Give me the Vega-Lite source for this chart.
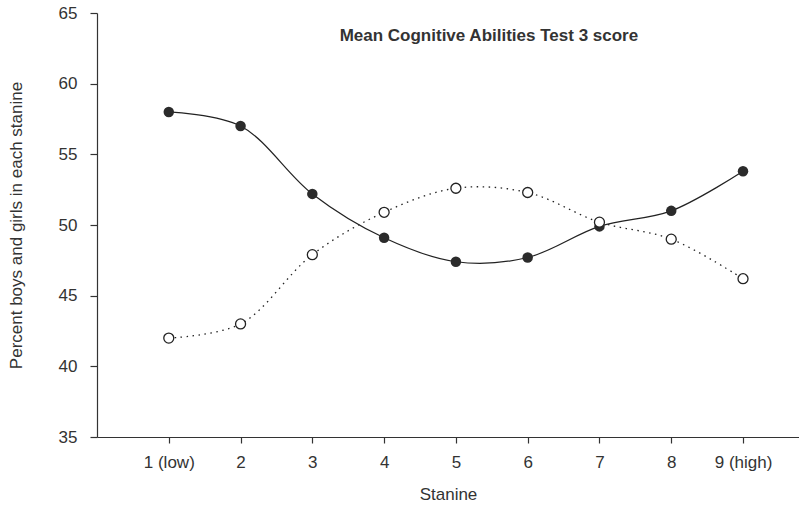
{
  "$schema": "https://vega.github.io/schema/vega-lite/v6.json",
  "autosize": "none",
  "width": 702,
  "height": 424,
  "padding": {"left": 97, "top": 13, "right": 0, "bottom": 75},
  "background": "white",
  "config": {
    "view": {"stroke": null},
    "font": "Liberation Sans",
    "axis": {"grid": false, "domainColor": "#333", "tickColor": "#333", "labelColor": "#333", "titleColor": "#333", "labelFont": "Liberation Sans", "titleFont": "Liberation Sans", "labelFontSize": 17, "titleFontSize": 17, "titleFontWeight": "normal", "domainWidth": 1.2, "tickWidth": 1.2}
  },
  "data": {
    "values": [
      {"stanine": 1, "score": 58.0, "group": "Boys"},
      {"stanine": 2, "score": 57.0, "group": "Boys"},
      {"stanine": 3, "score": 52.2, "group": "Boys"},
      {"stanine": 4, "score": 49.1, "group": "Boys"},
      {"stanine": 5, "score": 47.4, "group": "Boys"},
      {"stanine": 6, "score": 47.7, "group": "Boys"},
      {"stanine": 7, "score": 49.9, "group": "Boys"},
      {"stanine": 8, "score": 51.0, "group": "Boys"},
      {"stanine": 9, "score": 53.8, "group": "Boys"},
      {"stanine": 1, "score": 42.0, "group": "Girls"},
      {"stanine": 2, "score": 43.0, "group": "Girls"},
      {"stanine": 3, "score": 47.9, "group": "Girls"},
      {"stanine": 4, "score": 50.9, "group": "Girls"},
      {"stanine": 5, "score": 52.6, "group": "Girls"},
      {"stanine": 6, "score": 52.3, "group": "Girls"},
      {"stanine": 7, "score": 50.2, "group": "Girls"},
      {"stanine": 8, "score": 49.0, "group": "Girls"},
      {"stanine": 9, "score": 46.2, "group": "Girls"}
    ]
  },
  "encoding": {
    "x": {
      "field": "stanine", "type": "quantitative",
      "scale": {"domain": [0, 9.78], "nice": false, "zero": false},
      "axis": {
        "title": "Stanine", "values": [1,2,3,4,5,6,7,8,9],
        "labelExpr": "datum.value == 1 ? '1 (low)' : datum.value == 9 ? '9 (high)' : datum.label",
        "tickSize": 6, "labelPadding": 11, "titlePadding": 16, "labelFlush": false
      }
    },
    "y": {
      "field": "score", "type": "quantitative",
      "scale": {"domain": [35, 65], "nice": false, "zero": false},
      "axis": {
        "title": "Percent boys and girls in each stanine",
        "values": [35,40,45,50,55,60,65],
        "tickSize": 7, "labelPadding": 13, "titlePadding": 33, "labelFlush": false
      }
    }
  },
  "layer": [
    {
      "transform": [{"filter": "datum.group == 'Girls'"}],
      "mark": {"type": "line", "interpolate": "catmull-rom", "color": "#222", "strokeWidth": 1.3, "strokeDash": [1.5, 4.5]}
    },
    {
      "transform": [{"filter": "datum.group == 'Boys'"}],
      "mark": {"type": "line", "interpolate": "catmull-rom", "color": "#222", "strokeWidth": 1.2}
    },
    {
      "transform": [{"filter": "datum.group == 'Boys'"}],
      "mark": {"type": "point", "shape": "circle", "filled": true, "size": 110, "color": "#2b2b2b", "opacity": 1}
    },
    {
      "transform": [{"filter": "datum.group == 'Girls'"}],
      "mark": {"type": "point", "shape": "circle", "filled": true, "size": 100, "fill": "white", "stroke": "#222", "strokeWidth": 1.3, "opacity": 1}
    },
    {
      "data": {"values": [{"label": "Mean Cognitive Abilities Test 3 score", "xpos": 5.46, "ypos": 63.0}]},
      "mark": {"type": "text", "align": "center", "baseline": "alphabetic", "fontSize": 17, "fontWeight": "bold", "color": "#333", "font": "Liberation Sans"},
      "encoding": {
        "x": {"field": "xpos", "type": "quantitative"},
        "y": {"field": "ypos", "type": "quantitative"},
        "text": {"field": "label"}
      }
    }
  ]
}
